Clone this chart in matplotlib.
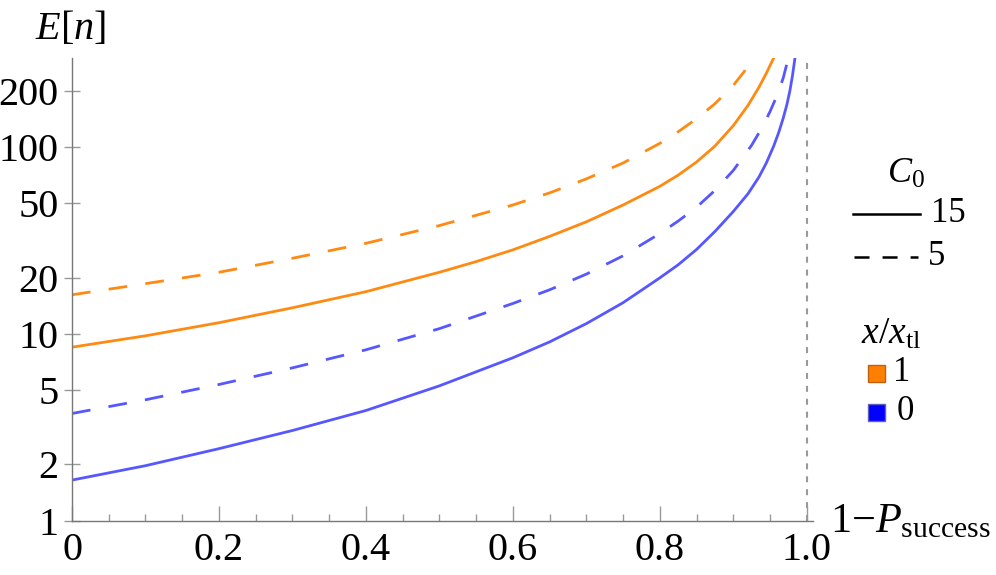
"""E[n] versus 1 - P_success on a log axis, two C0 values and two x/x_tl values."""

import matplotlib

matplotlib.use("Agg")
import matplotlib.pyplot as plt
from matplotlib.lines import Line2D
from matplotlib.patches import Rectangle
from matplotlib.ticker import FixedLocator, MultipleLocator, NullLocator

# values (x = 1 - P_success, y = E[n])
x_orange_solid = [0.0, 0.1, 0.2, 0.3, 0.4, 0.5, 0.55, 0.6, 0.65, 0.7, 0.75, 0.8,
                  0.825, 0.85, 0.875, 0.9, 0.92, 0.935, 0.945, 0.955]
y_orange_solid = [8.49, 9.77, 11.48, 13.8, 16.83, 21.38, 24.38, 28.18, 33.27, 39.81, 48.98, 61.66,
                  70.8, 83.2, 101.2, 130.3, 167.1, 209.2, 248.6, 300.0]

x_orange_dash = [0.0, 0.1, 0.2, 0.3, 0.4, 0.5, 0.6, 0.65, 0.7, 0.75, 0.8,
                 0.825, 0.85, 0.875, 0.9, 0.915, 0.926]
y_orange_dash = [16.2, 18.58, 21.38, 25.41, 30.55, 38.02, 48.98, 56.89, 67.61, 82.22, 104.7,
                 120.8, 141.9, 170.6, 213.8, 254.1, 300.0]

x_blue_dash = [0.0, 0.1, 0.2, 0.3, 0.4, 0.5, 0.6, 0.65, 0.7, 0.75, 0.8,
               0.825, 0.85, 0.875, 0.9, 0.925, 0.94, 0.95, 0.96, 0.968, 0.975]
y_blue_dash = [3.75, 4.44, 5.36, 6.58, 8.22, 10.67, 14.55, 17.22, 20.89, 26.18, 34.44,
               40.18, 47.64, 58.61, 74.99, 102.3, 128.8, 154.9, 190.5, 234.4, 300.0]

x_blue_solid = [0.0, 0.1, 0.2, 0.3, 0.4, 0.5, 0.6, 0.65, 0.7, 0.75, 0.8,
                0.825, 0.85, 0.875, 0.9, 0.92, 0.935, 0.945, 0.955, 0.962, 0.968,
                0.973, 0.977, 0.9805, 0.984]
y_blue_solid = [1.65, 1.97, 2.43, 3.04, 3.89, 5.27, 7.45, 9.06, 11.35, 14.69, 19.95,
                23.44, 28.31, 35.32, 45.19, 56.23, 69.18, 82.22, 101.2, 120.2, 142.9,
                169.0, 199.5, 239.9, 300.0]

y_ticks = [1, 2, 5, 10, 20, 50, 100, 200]
x_ticks = [0.0, 0.2, 0.4, 0.6, 0.8, 1.0]
x_tick_labels = ["0", "0.2", "0.4", "0.6", "0.8", "1.0"]
c0_labels = ["15", "5"]
xtl_labels = ["1", "0"]

ORANGE = "#ff8a12"
BLUE = "#5757ff"
W, H = 996, 575

plt.rcParams["font.family"] = ["Liberation Serif", "DejaVu Serif"]
plt.rcParams["mathtext.fontset"] = "custom"
plt.rcParams["mathtext.rm"] = "Liberation Serif"
plt.rcParams["mathtext.it"] = "Liberation Serif:italic"
plt.rcParams["lines.scale_dashes"] = False


def fx(px):
    return px / W


def fy(py):
    return 1 - py / H


fig = plt.figure(figsize=(W / 100, H / 100), dpi=100)
ax = fig.add_axes([fx(72), fy(520.7), 740.6 / W, 462.7 / H])

lw = 2.0
ax.plot(x_orange_dash, y_orange_dash, color=ORANGE, lw=lw, dashes=(13.5, 13.2), dash_capstyle="butt")
ax.plot(x_orange_solid, y_orange_solid, color=ORANGE, lw=lw)
ax.plot(x_blue_dash, y_blue_dash, color=BLUE, lw=lw, dashes=(13.5, 13.2), dash_capstyle="butt")
ax.plot(x_blue_solid, y_blue_solid, color=BLUE, lw=lw)
ax.plot([1.0, 1.0], [1, 300], color="#999999", lw=1.5, dashes=(4.3, 5.0))

ax.set_yscale("log")
ax.set_xlim(0, 1.008)
ax.set_ylim(1, 300)

for side in ("top", "right"):
    ax.spines[side].set_visible(False)
for side in ("left", "bottom"):
    ax.spines[side].set_color("#777777")
    ax.spines[side].set_linewidth(1.0)

ax.yaxis.set_major_locator(FixedLocator(y_ticks))
ax.yaxis.set_minor_locator(NullLocator())
ax.set_yticklabels([str(v) for v in y_ticks])
ax.set_xticks(x_ticks)
ax.set_xticklabels(x_tick_labels)
ax.xaxis.set_minor_locator(MultipleLocator(0.05))

ax.tick_params(axis="y", direction="inout", length=11, width=1.0, color="#999999",
               labelsize=29, pad=4)
ax.tick_params(axis="x", which="major", direction="in", length=10.5, width=1.0,
               color="#999999", labelsize=29, pad=8)
ax.tick_params(axis="x", which="minor", direction="in", length=5.2, width=1.0, color="#999999")

fig.text(fx(35), fy(39), r"$E[n]$", fontsize=29, ha="left", va="baseline")
fig.text(fx(830), fy(532), r"$1{-}P_{\mathrm{success}}$", fontsize=30.5, ha="left", va="baseline")

# legend for C0 (line style)
fig.text(fx(887), fy(183), r"$C_0$", fontsize=26, ha="left", va="baseline")
fig.add_artist(Line2D([fx(853), fx(920)], [fy(214), fy(214)], color="black", lw=1.8))
fig.add_artist(Line2D([fx(854), fx(918)], [fy(257), fy(257)], color="black", lw=1.8,
                      dashes=(10.8, 9.4), dash_capstyle="butt"))
fig.text(fx(931), fy(222), c0_labels[0], fontsize=25, ha="left", va="baseline")
fig.text(fx(928), fy(265), c0_labels[1], fontsize=25, ha="left", va="baseline")

# legend for x/x_tl (colour)
fig.text(fx(861), fy(344), r"$x/x_{\mathrm{tl}}$", fontsize=27, ha="left", va="baseline")
fig.add_artist(Rectangle((fx(868), fy(382)), 17 / W, 17 / H, transform=fig.transFigure,
                         facecolor="#ff8000", edgecolor="#c06010", lw=1.0))
fig.add_artist(Rectangle((fx(868), fy(421)), 17 / W, 17 / H, transform=fig.transFigure,
                         facecolor="#0000ff", edgecolor="#6060c0", lw=1.0))
fig.text(fx(893), fy(381), xtl_labels[0], fontsize=25, ha="left", va="baseline")
fig.text(fx(897), fy(420), xtl_labels[1], fontsize=25, ha="left", va="baseline")

fig.savefig("out.png", dpi=100)
